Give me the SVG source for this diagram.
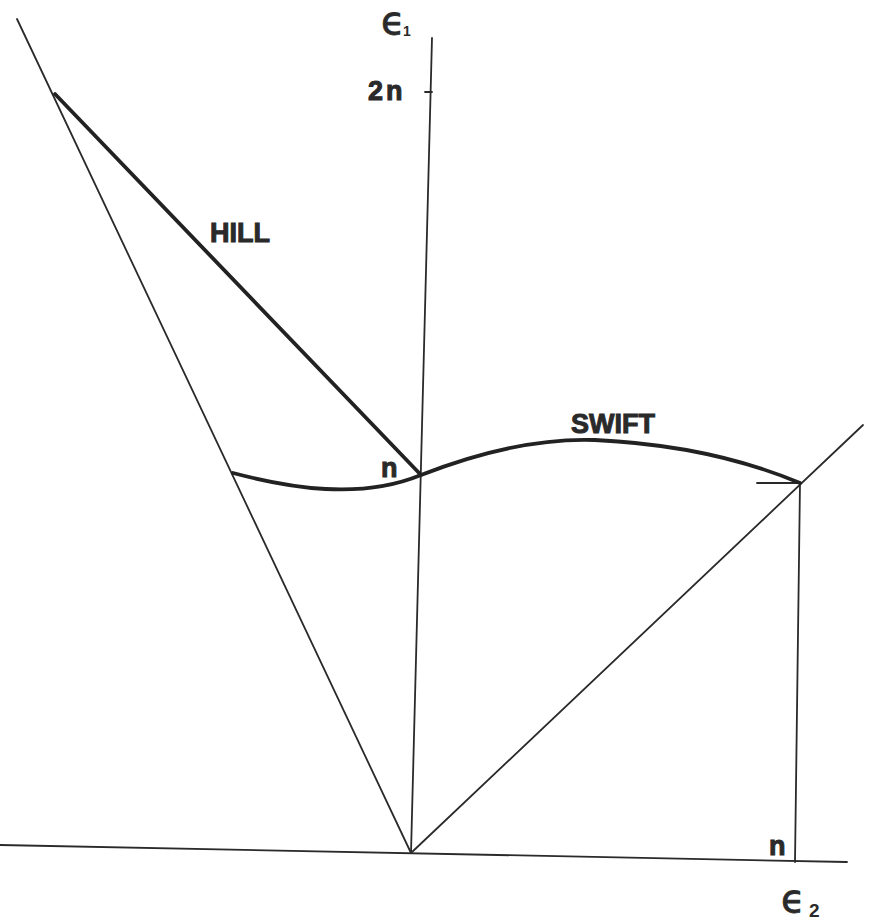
<svg xmlns="http://www.w3.org/2000/svg" width="869" height="923" viewBox="0 0 869 923">
<style>
.thin{stroke:#2a2a2a;stroke-width:1.8;fill:none;stroke-linecap:round}
.thick{stroke:#222;stroke-width:3.8;fill:none;stroke-linecap:round}
.lab{font-family:"Liberation Sans",Arial,sans-serif;font-weight:bold;fill:#2a2a2a;stroke:#2a2a2a;stroke-width:1;font-size:27px}
.sym{font-family:"DejaVu Sans","Liberation Sans",sans-serif;fill:#2a2a2a;stroke:#2a2a2a;stroke-width:0.8;font-size:39px}
.sub{font-family:"Liberation Sans",Arial,sans-serif;font-weight:bold;fill:#2a2a2a}
</style>
<rect width="869" height="923" fill="#fff"/>
<g id="connectors">
<line class="thin" x1="432" y1="38" x2="411" y2="853"/>
<line class="thin" x1="425" y1="92" x2="432" y2="92"/>
<line class="thin" x1="0" y1="845" x2="847" y2="862"/>
<line class="thin" x1="17" y1="19" x2="411" y2="853"/>
<line class="thin" x1="411" y1="853" x2="863" y2="425"/>
<line class="thin" x1="800" y1="483" x2="795" y2="862"/>
<line class="thin" x1="757" y1="483" x2="800" y2="483"/>
<line class="thick" x1="55" y1="94" x2="421" y2="475"/>
<path class="thick" d="M233,473 C290,488 360,500 421,475 C480,452 540,438 595,440 C680,444 750,462 800,483"/>
</g>
<g id="labels">
<text class="sym" x="381" y="34">ϵ</text>
<text class="sub" x="403" y="36" font-size="14">1</text>
<text class="lab" x="368" y="100" font-size="32" letter-spacing="3">2n</text>
<text class="lab" x="210" y="242">HILL</text>
<text class="lab" x="381" y="477">n</text>
<text class="lab" x="571" y="433">SWIFT</text>
<text class="lab" x="769" y="855">n</text>
<text class="sym" x="781" y="912" font-size="45">ϵ</text>
<text class="sub" x="809" y="917" font-size="19">2</text>
</g>
</svg>
